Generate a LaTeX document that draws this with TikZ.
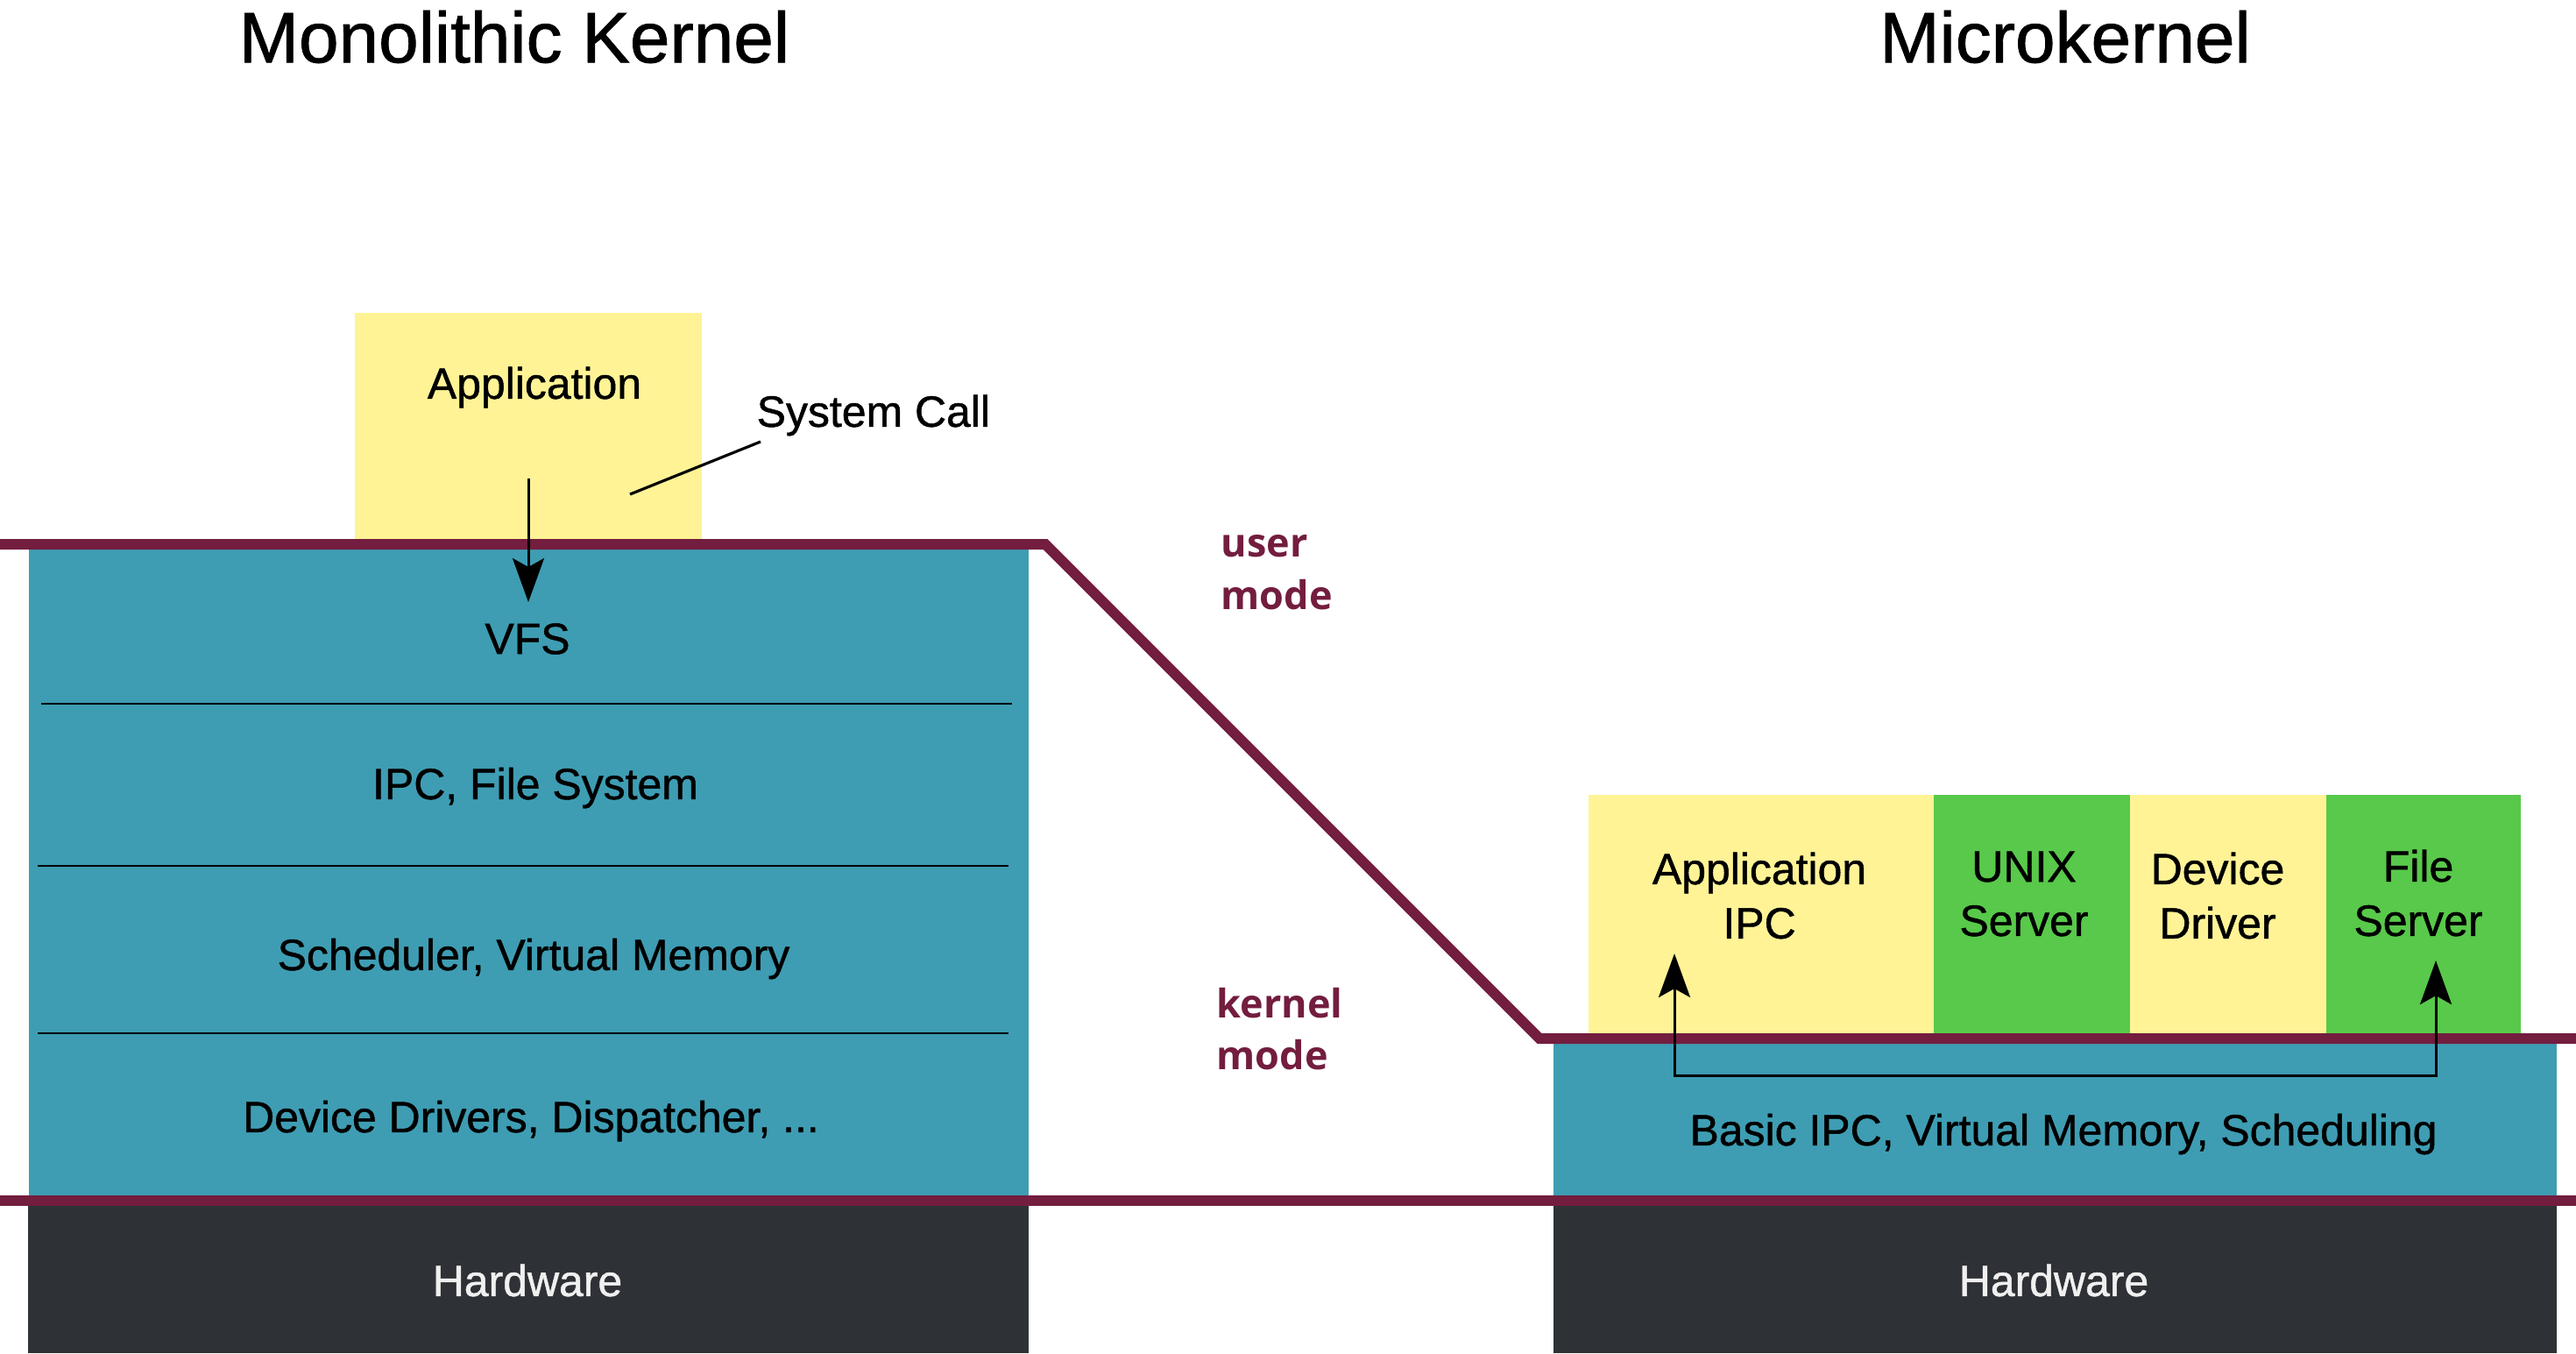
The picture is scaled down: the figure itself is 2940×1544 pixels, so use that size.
\documentclass[tikz,border=0pt]{standalone}
\usepackage{fontspec}
\setmainfont{Liberation Sans}[BoldFont=Liberation Sans, BoldFeatures={FakeBold=1.0}]
\newfontfamily\modefont{Open Sans}
\usetikzlibrary{arrows.meta}
\definecolor{tealc}{RGB}{62,157,179}
\definecolor{yellowc}{RGB}{255,243,150}
\definecolor{greenc}{RGB}{88,201,74}
\definecolor{darkc}{RGB}{46,50,54}
\definecolor{purplec}{RGB}{115,29,63}
\definecolor{hwtext}{RGB}{240,240,240}
\tikzset{
  blk/.style={draw=none, inner sep=0pt, outer sep=0pt, anchor=north west},
  bodytxt/.style={inner sep=0pt, font=\bfseries\fontsize{14.2}{17.6}\selectfont, align=center, text=black},
  titletxt/.style={inner sep=0pt, font=\bfseries\fontsize{23.3}{26}\selectfont},
  modetxt/.style={inner sep=0pt, anchor=west, align=left, text=purplec, font=\modefont\bfseries\fontsize{12.8}{17}\selectfont},
  modeline/.style={draw=purplec, line width=3.4pt, line join=miter},
  sepline/.style={draw=black, line width=0.8pt},
  callarrow/.style={draw=black, line width=0.85pt, arrows={-Stealth[length=0.5cm, width=0.36cm, inset=0.1cm]}},
  ipcarrow/.style={draw=black, line width=0.85pt, arrows={Stealth[length=0.5cm, width=0.36cm, inset=0.1cm]-Stealth[length=0.5cm, width=0.36cm, inset=0.1cm]}},
}
\begin{document}
\begin{tikzpicture}[x=0.01cm, y=-0.01cm]
\useasboundingbox (0,0) rectangle (2940,1544);
% titles
\node[titletxt] (t1) at (587,42) {Monolithic Kernel};
\node[titletxt] (t2) at (2357,42) {Microkernel};
% monolithic side
\node[blk, fill=yellowc, minimum width=3.96cm, minimum height=2.70cm] (app) at (405,357) {};
\node[blk, fill=tealc, minimum width=11.40cm, minimum height=7.49cm] (mono) at (33,621) {};
\node[blk, fill=darkc, minimum width=11.41cm, minimum height=1.74cm] (hwl) at (32,1370) {};
\node[bodytxt] (apptxt) at (610,442) {Application};
\node[bodytxt, anchor=west] (sctxt) at (863,474) {System Call};
\node[bodytxt] (vfs) at (602,729) {VFS};
\node[bodytxt] (ipcfs) at (611,899) {IPC, File System};
\node[bodytxt] (sched) at (609,1094) {Scheduler, Virtual Memory};
\node[bodytxt] (drv) at (606,1279) {Device Drivers, Dispatcher, ...};
\node[bodytxt, text=hwtext] (hwltxt) at (602,1461) {Hardware};
\coordinate (s1a) at (47,803); \coordinate (s1b) at (1155,803);
\coordinate (s2a) at (43,988); \coordinate (s2b) at (1151,988);
\coordinate (s3a) at (43,1179); \coordinate (s3b) at (1151,1179);
\draw[sepline] (s1a) -- (s1b);
\draw[sepline] (s2a) -- (s2b);
\draw[sepline] (s3a) -- (s3b);
% microkernel side
\node[blk, fill=yellowc, minimum width=3.94cm, minimum height=2.80cm] (appipc) at (1813,907) {};
\node[blk, fill=greenc, minimum width=2.24cm, minimum height=2.80cm] (unix) at (2207,907) {};
\node[blk, fill=yellowc, minimum width=2.24cm, minimum height=2.80cm] (devdrv) at (2431,907) {};
\node[blk, fill=greenc, minimum width=2.22cm, minimum height=2.80cm] (filesrv) at (2655,907) {};
\node[blk, fill=tealc, minimum width=11.44cm, minimum height=1.85cm] (micro) at (1773,1185) {};
\node[blk, fill=darkc, minimum width=11.44cm, minimum height=1.74cm] (hwr) at (1773,1370) {};
\node[bodytxt] (appipctxt) at (2008,1022) {Application\\IPC};
\node[bodytxt] (unixtxt) at (2310,1020) {UNIX\\Server};
\node[bodytxt] (devtxt) at (2531,1022) {Device\\Driver};
\node[bodytxt] (filetxt) at (2760,1019) {File\\Server};
\node[bodytxt] (basictxt) at (2355,1294) {Basic IPC, Virtual Memory, Scheduling};
\node[bodytxt, text=hwtext] (hwrtxt) at (2344,1461) {Hardware};
% mode labels
\node[modetxt] (umode) at (1393,653) {user\\mode};
\node[modetxt] (kmode) at (1388,1174) {kernel\\mode};
% mode boundary lines
\coordinate (m0) at (0,621); \coordinate (m1) at (1193,621);
\coordinate (m2) at (1757,1185); \coordinate (m3) at (2940,1185);
\coordinate (h0) at (0,1370); \coordinate (h1) at (2940,1370);
\draw[modeline] (m0) -- (m1) -- (m2) -- (m3);
\draw[modeline] (h0) -- (h1);
% system call
\coordinate (scA) at (603,546); \coordinate (scB) at (603,687);
\draw[callarrow] (scA) -- (scB);
\coordinate (lnA) at (719,564); \coordinate (lnB) at (868,504);
\draw[sepline, line width=0.9pt] (lnA) -- (lnB);
% IPC arrow
\coordinate (ia) at (1911,1088); \coordinate (ib) at (1911,1227);
\coordinate (ic) at (2780,1227); \coordinate (id) at (2780,1096);
\draw[ipcarrow] (ia) -- (ib) -- (ic) -- (id);
\end{tikzpicture}
\end{document}
